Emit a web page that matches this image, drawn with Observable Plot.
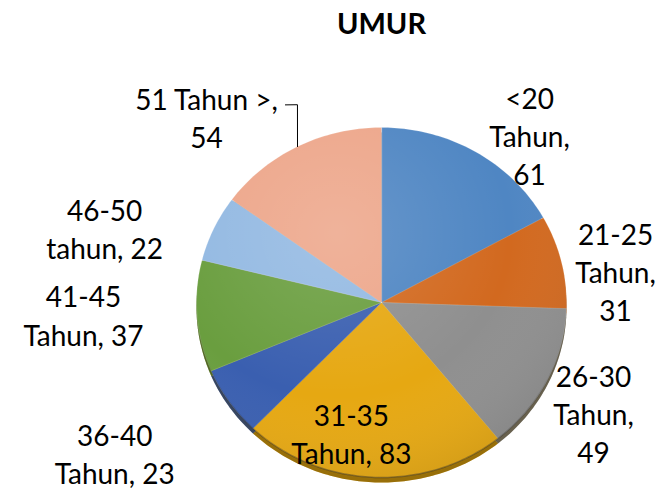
<!DOCTYPE html>
<html><head><meta charset="utf-8">
<script src="https://cdn.jsdelivr.net/npm/d3@7"></script>
<script src="https://cdn.jsdelivr.net/npm/@observablehq/plot@0.6"></script>
<style>body{margin:0;background:#fff}</style>
</head><body><div id="chart"></div>
<script>
// ---- data ----
const categories = ["<20 Tahun", "21-25 Tahun", "26-30 Tahun", "31-35 Tahun", "36-40 Tahun", "41-45 Tahun", "46-50 tahun", "51 Tahun >"];
const values = [61, 31, 49, 83, 23, 37, 22, 54];
const labels = ["<20\nTahun,\n61", "21-25\nTahun,\n31", "26-30\nTahun,\n49", "31-35\nTahun, 83", "36-40\nTahun, 23", "41-45\nTahun, 37", "46-50\ntahun, 22", "51 Tahun >,\n54"];
const colors = ["#4f86c3", "#d2691f", "#8f8f8f", "#e6a812", "#3a5fb0", "#6a9e3f", "#93b9e2", "#eda68a"];
const title = "UMUR";

// ---- layout (label placement, polar: degrees clockwise from top, radius in pie radii) ----
const labelAngle = [39.8, 81.9, 118.9, 192.3, 239.2, 267.6, 286.0, 318.3];
const labelRadius = [1.25, 1.278, 1.309, 0.763, 1.679, 1.612, 1.557, 1.422];
const leaderIndex = 7;
const leaderPolar = [[null, 1.0], [338.1, 1.218], [335.3, 1.243]];

const rad = Math.PI / 180;
const total = d3.sum(values);
const polar = (a, r) => ({u: r * Math.sin(a * rad), v: r * Math.cos(a * rad)});

// slices
const slicePts = [];
const mids = [];
let acc = 0;
values.forEach((val, i) => {
  const a0 = acc / total * 360, a1 = (acc + val) / total * 360;
  mids.push((a0 + a1) / 2);
  slicePts.push({cat: categories[i], u: 0, v: 0});
  const n = Math.max(2, Math.ceil(a1 - a0));
  for (let k = 0; k <= n; k++) {
    const p = polar(a0 + (a1 - a0) * k / n, 1);
    slicePts.push({cat: categories[i], ...p});
  }
  acc += val;
});
const ellipsePts = d3.range(0, 360, 1).map(a => polar(a, 1));
const labelPts = labels.map((t, i) => ({text: t, ...polar(labelAngle[i], labelRadius[i])}));
const leaderPts = leaderPolar.map(([a, r]) => polar(a === null ? mids[leaderIndex] : a, r));

const plot = Plot.plot({
  width: 667, height: 493,
  margin: 0,
  style: {fontFamily: "Lato, 'Open Sans', sans-serif", background: "#fff", overflow: "visible"},
  x: {domain: [-1, 1], range: [196, 566], axis: null},
  y: {domain: [-1, 1], range: [477, 127], axis: null},
  color: {domain: categories, range: colors},
  marks: [
    Plot.line(ellipsePts, {x: "u", y: "v", fill: "#000", fillOpacity: 0.4, stroke: "none", curve: "linear-closed", dy: 9, dx: 1, ariaLabel: "shadow"}),
    Plot.line(slicePts, {x: "u", y: "v", z: "cat", fill: "cat", stroke: "none", curve: "linear-closed", dy: 5}),
    Plot.line(ellipsePts, {x: "u", y: "v", fill: "#3a2a00", fillOpacity: 0.45, stroke: "none", curve: "linear-closed", dy: 5}),
    Plot.line(slicePts, {x: "u", y: "v", z: "cat", fill: "cat", stroke: "#ffffff", strokeOpacity: 0.3, strokeWidth: 0.6, curve: "linear-closed"}),
    Plot.line(ellipsePts, {x: "u", y: "v", fill: "url(#shade)", stroke: "url(#rim)", strokeWidth: 1.5, curve: "linear-closed"}),
    Plot.line(leaderPts, {x: "u", y: "v", stroke: "#000", strokeWidth: 1}),
    Plot.text(labelPts, {x: "u", y: "v", text: "text", fontSize: 28, lineHeight: 1.36, fill: "#000"}),
    Plot.text([title], {x: 0, y: 1.604, text: d => d, fontSize: 29, fontWeight: "bold", fill: "#000", dy: 3})
  ]
});

const ns = "http://www.w3.org/2000/svg";
const defs = document.createElementNS(ns, "defs");
defs.innerHTML = `
  <filter id="blur" x="-10%" y="-10%" width="120%" height="120%"><feGaussianBlur stdDeviation="3.5"/></filter>
  <radialGradient id="shade" cx="0.38" cy="0.3" r="0.85">
    <stop offset="0" stop-color="#fff" stop-opacity="0.14"/>
    <stop offset="0.55" stop-color="#fff" stop-opacity="0"/>
    <stop offset="1" stop-color="#000" stop-opacity="0.14"/>
  </radialGradient>
  <linearGradient id="rim" x1="0" y1="0" x2="0" y2="1">
    <stop offset="0" stop-color="#000" stop-opacity="0"/>
    <stop offset="0.55" stop-color="#000" stop-opacity="0"/>
    <stop offset="1" stop-color="#000" stop-opacity="0.35"/>
  </linearGradient>`;
plot.insertBefore(defs, plot.firstChild);
const sh = plot.querySelector('[aria-label="shadow"]');
if (sh) sh.setAttribute("filter", "url(#blur)");
document.getElementById("chart").appendChild(plot);
</script>
</body></html>
